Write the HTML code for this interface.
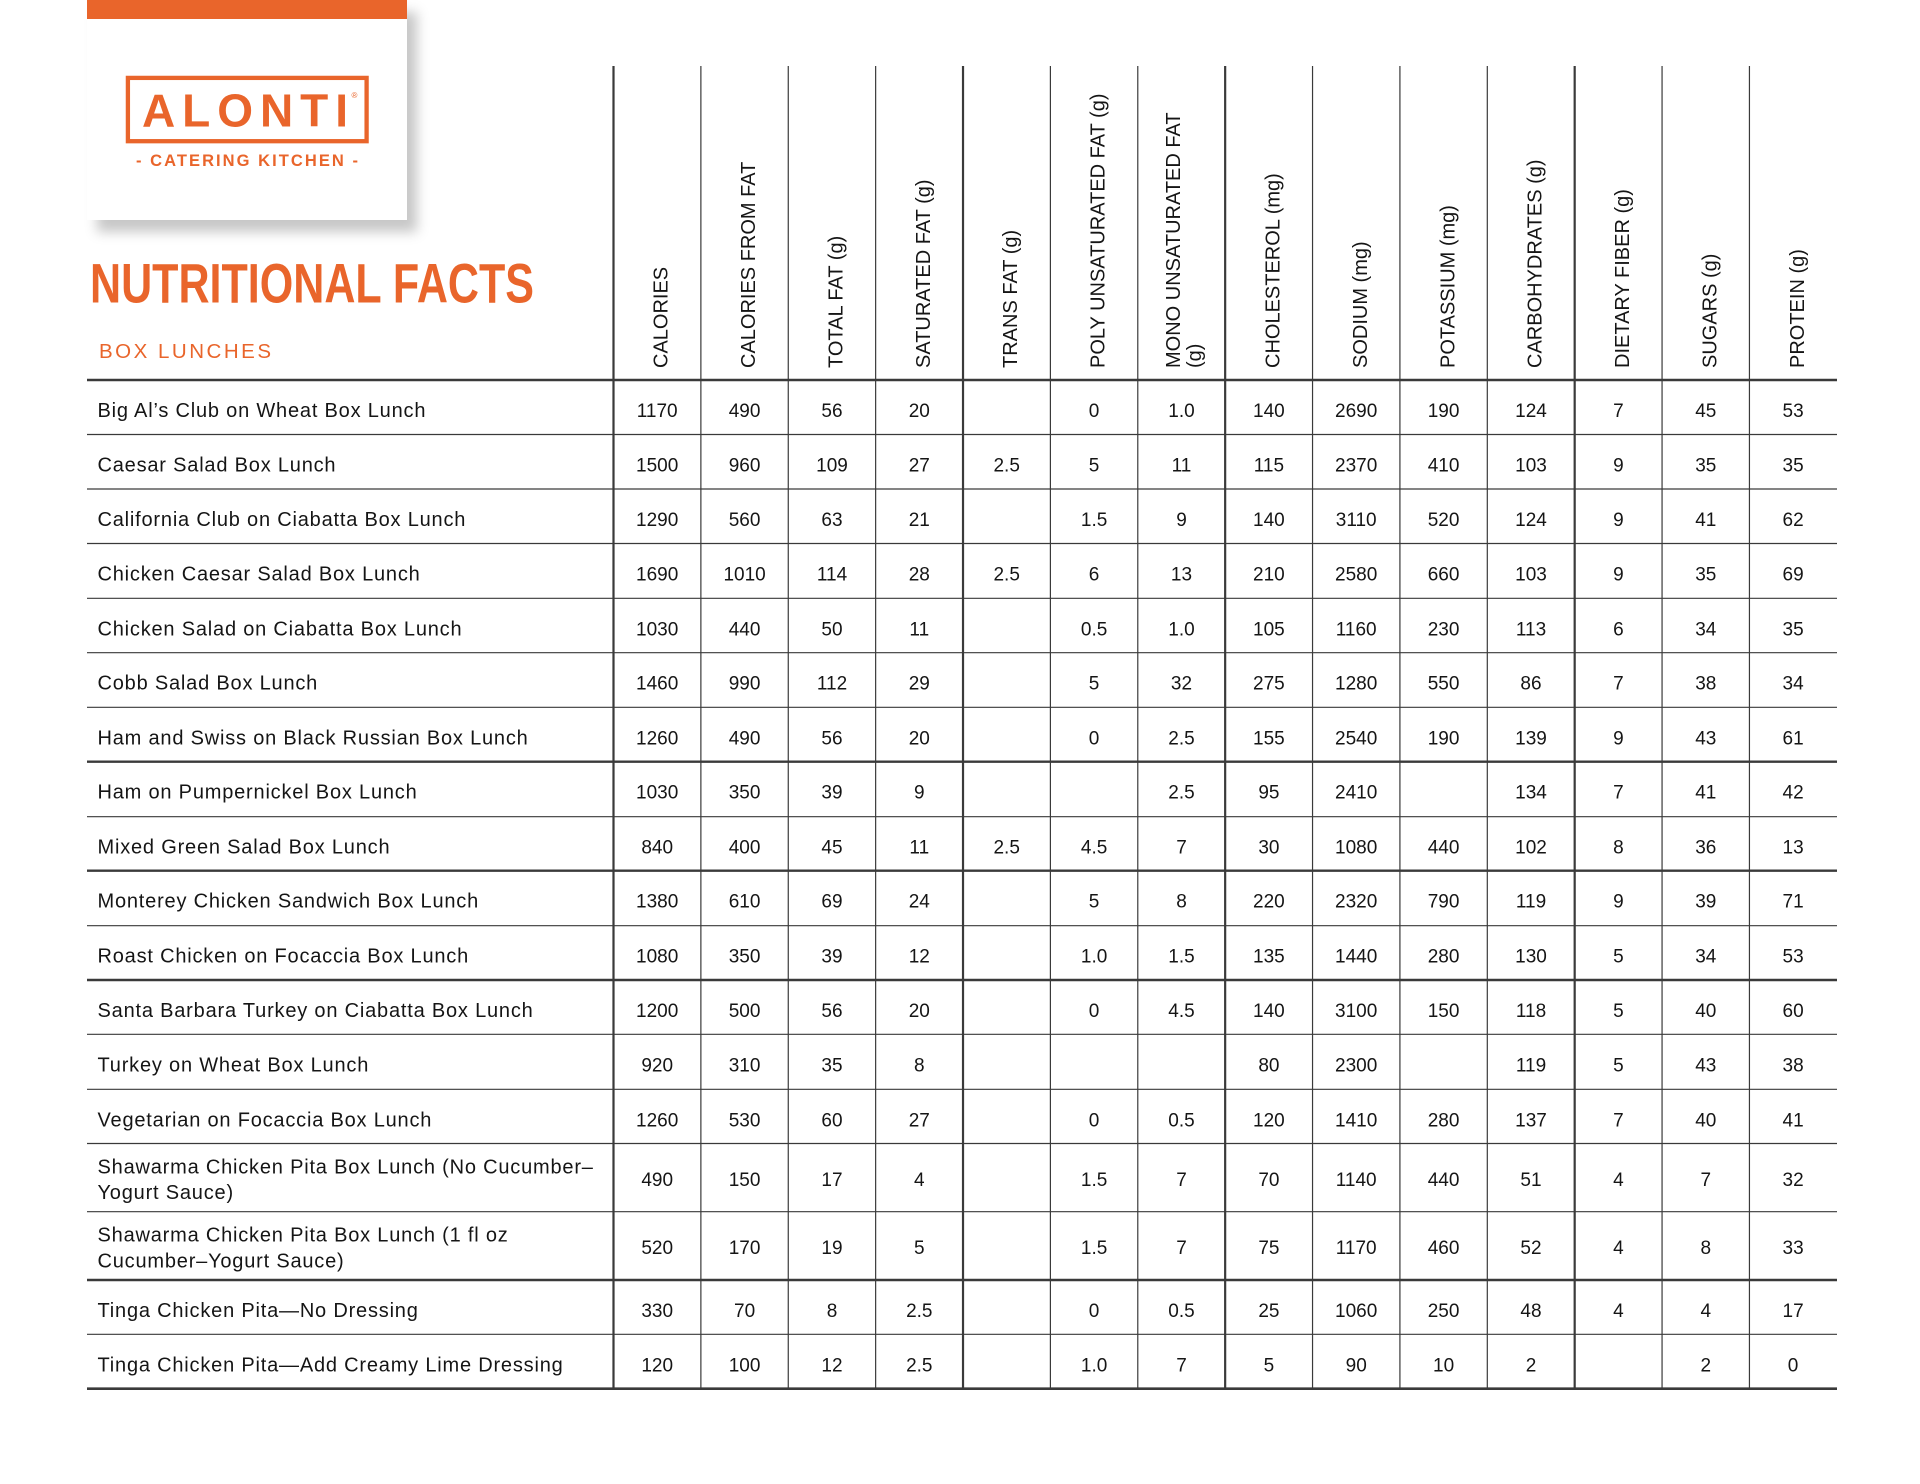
<!DOCTYPE html>
<html>
<head>
<meta charset="utf-8">
<style>
  html, body { margin: 0; padding: 0; background: #ffffff; }
  body { width: 1920px; height: 1484px; overflow: hidden; }
  svg { display: block; }
  .h { font-family: "Liberation Sans", sans-serif; font-size: 20px; fill: #151515; }
  .l { font-family: "Liberation Sans", sans-serif; font-size: 20px; fill: #151515; letter-spacing: 0.8px; }
  .n text { font-family: "Liberation Sans", sans-serif; font-size: 19px; fill: #151515; text-anchor: middle; }
</style>
</head>
<body>
<svg width="1920" height="1484" viewBox="0 0 1920 1484" xmlns="http://www.w3.org/2000/svg">
  <defs>
    <filter id="sh" x="-10%" y="-10%" width="130%" height="130%">
      <feDropShadow dx="10" dy="12" stdDeviation="6" flood-color="#000" flood-opacity="0.22"/>
    </filter>
  </defs>
  <rect width="1920" height="1484" fill="#ffffff"/>

  <!-- Logo card -->
  <rect x="87" y="0" width="320" height="220" fill="#ffffff" filter="url(#sh)"/>
  <rect x="87" y="0" width="320" height="19" fill="#E9652B"/>
  <rect x="127.9" y="77.9" width="238.7" height="63.3" fill="none" stroke="#E9652B" stroke-width="4.3"/>
  <text x="142" y="126.7" font-family="Liberation Sans, sans-serif" font-weight="bold" font-size="46" fill="#E9652B" textLength="206" lengthAdjust="spacing">ALONTI</text>
  <text x="351.5" y="98" font-family="Liberation Sans, sans-serif" font-size="8" fill="#E9652B">®</text>
  <text x="136" y="166" font-family="Liberation Sans, sans-serif" font-weight="bold" font-size="16.5" fill="#E9652B" textLength="222" lengthAdjust="spacing">- CATERING KITCHEN -</text>

  <!-- Title -->
  <text x="90" y="302.3" font-family="Liberation Sans, sans-serif" font-weight="bold" font-size="56" fill="#E9652B" textLength="444" lengthAdjust="spacingAndGlyphs">NUTRITIONAL FACTS</text>
  <text x="99" y="358" font-family="Liberation Sans, sans-serif" font-size="20.5" fill="#E9652B" textLength="172" lengthAdjust="spacing">BOX LUNCHES</text>

  <!-- Vertical lines -->
  <g stroke="#3a3a3a">
    <line x1="613.5" y1="66" x2="613.5" y2="1389" stroke-width="2.2"/>
    <line x1="700.88" y1="66" x2="700.88" y2="1389" stroke-width="1.2"/>
    <line x1="788.26" y1="66" x2="788.26" y2="1389" stroke-width="1.2"/>
    <line x1="875.64" y1="66" x2="875.64" y2="1389" stroke-width="1.2"/>
    <line x1="963.02" y1="66" x2="963.02" y2="1389" stroke-width="2.2"/>
    <line x1="1050.4" y1="66" x2="1050.4" y2="1389" stroke-width="1.2"/>
    <line x1="1137.78" y1="66" x2="1137.78" y2="1389" stroke-width="1.2"/>
    <line x1="1225.16" y1="66" x2="1225.16" y2="1389" stroke-width="2.2"/>
    <line x1="1312.54" y1="66" x2="1312.54" y2="1389" stroke-width="1.2"/>
    <line x1="1399.92" y1="66" x2="1399.92" y2="1389" stroke-width="1.2"/>
    <line x1="1487.3" y1="66" x2="1487.3" y2="1389" stroke-width="1.2"/>
    <line x1="1574.68" y1="66" x2="1574.68" y2="1389" stroke-width="2.2"/>
    <line x1="1662.06" y1="66" x2="1662.06" y2="1389" stroke-width="1.2"/>
    <line x1="1749.44" y1="66" x2="1749.44" y2="1389" stroke-width="1.2"/>
  </g>

  <!-- Horizontal lines -->
  <g stroke="#3a3a3a">
    <line x1="87" y1="380" x2="1837" y2="380" stroke-width="2.6"/>
    <line x1="87" y1="434.5" x2="1837" y2="434.5" stroke-width="1.2"/>
    <line x1="87" y1="489" x2="1837" y2="489" stroke-width="1.2"/>
    <line x1="87" y1="543.5" x2="1837" y2="543.5" stroke-width="1.2"/>
    <line x1="87" y1="598.3" x2="1837" y2="598.3" stroke-width="1.2"/>
    <line x1="87" y1="652.7" x2="1837" y2="652.7" stroke-width="1.2"/>
    <line x1="87" y1="707.3" x2="1837" y2="707.3" stroke-width="1.2"/>
    <line x1="87" y1="761.7" x2="1837" y2="761.7" stroke-width="2.4"/>
    <line x1="87" y1="816.7" x2="1837" y2="816.7" stroke-width="1.2"/>
    <line x1="87" y1="870.7" x2="1837" y2="870.7" stroke-width="2.4"/>
    <line x1="87" y1="925.7" x2="1837" y2="925.7" stroke-width="1.2"/>
    <line x1="87" y1="980" x2="1837" y2="980" stroke-width="2.4"/>
    <line x1="87" y1="1034.3" x2="1837" y2="1034.3" stroke-width="1.2"/>
    <line x1="87" y1="1089.3" x2="1837" y2="1089.3" stroke-width="1.2"/>
    <line x1="87" y1="1143.5" x2="1837" y2="1143.5" stroke-width="1.2"/>
    <line x1="87" y1="1211.7" x2="1837" y2="1211.7" stroke-width="1.2"/>
    <line x1="87" y1="1280" x2="1837" y2="1280" stroke-width="2.6"/>
    <line x1="87" y1="1334.3" x2="1837" y2="1334.3" stroke-width="1.2"/>
    <line x1="87" y1="1388.7" x2="1837" y2="1388.7" stroke-width="2.6"/>
  </g>

  <!-- Column headers (rotated) -->
  <g class="h">
    <text transform="translate(667.7,368) rotate(-90)">CALORIES</text>
    <text transform="translate(755.1,368) rotate(-90)">CALORIES FROM FAT</text>
    <text transform="translate(842.5,368) rotate(-90)">TOTAL FAT (g)</text>
    <text transform="translate(929.8,368) rotate(-90)">SATURATED FAT (g)</text>
    <text transform="translate(1017.2,368) rotate(-90)">TRANS FAT (g)</text>
    <text transform="translate(1104.6,368) rotate(-90)">POLY UNSATURATED FAT (g)</text>
    <text transform="translate(1180,368) rotate(-90)">MONO UNSATURATED FAT</text>
    <text transform="translate(1201,368) rotate(-90)">(g)</text>
    <text transform="translate(1279.6,368) rotate(-90)">CHOLESTEROL (mg)</text>
    <text transform="translate(1367,368) rotate(-90)">SODIUM (mg)</text>
    <text transform="translate(1454.4,368) rotate(-90)">POTASSIUM (mg)</text>
    <text transform="translate(1541.7,368) rotate(-90)">CARBOHYDRATES (g)</text>
    <text transform="translate(1629.1,368) rotate(-90)">DIETARY FIBER (g)</text>
    <text transform="translate(1716.5,368) rotate(-90)">SUGARS (g)</text>
    <text transform="translate(1803.9,368) rotate(-90)">PROTEIN (g)</text>
  </g>

  <!-- Row labels -->
  <g class="l">
    <text x="97.5" y="417">Big Al’s Club on Wheat Box Lunch</text>
    <text x="97.5" y="471.5">Caesar Salad Box Lunch</text>
    <text x="97.5" y="526">California Club on Ciabatta Box Lunch</text>
    <text x="97.5" y="580.5">Chicken Caesar Salad Box Lunch</text>
    <text x="97.5" y="635.3">Chicken Salad on Ciabatta Box Lunch</text>
    <text x="97.5" y="689.7">Cobb Salad Box Lunch</text>
    <text x="97.5" y="744.3">Ham and Swiss on Black Russian Box Lunch</text>
    <text x="97.5" y="798.7">Ham on Pumpernickel Box Lunch</text>
    <text x="97.5" y="853.7">Mixed Green Salad Box Lunch</text>
    <text x="97.5" y="907.7">Monterey Chicken Sandwich Box Lunch</text>
    <text x="97.5" y="962.7">Roast Chicken on Focaccia Box Lunch</text>
    <text x="97.5" y="1017">Santa Barbara Turkey on Ciabatta Box Lunch</text>
    <text x="97.5" y="1071.3">Turkey on Wheat Box Lunch</text>
    <text x="97.5" y="1126.3">Vegetarian on Focaccia Box Lunch</text>
    <text x="97.5" y="1173.3">Shawarma Chicken Pita Box Lunch (No Cucumber–</text>
    <text x="97.5" y="1199">Yogurt Sauce)</text>
    <text x="97.5" y="1241.7">Shawarma Chicken Pita Box Lunch (1 fl oz</text>
    <text x="97.5" y="1267.3">Cucumber–Yogurt Sauce)</text>
    <text x="97.5" y="1317">Tinga Chicken Pita—No Dressing</text>
    <text x="97.5" y="1371.3">Tinga Chicken Pita—Add Creamy Lime Dressing</text>
  </g>

  <!-- Data -->
  <g class="n">
    <g transform="translate(0,417)">
      <text x="657.2">1170</text><text x="744.6">490</text><text x="832">56</text><text x="919.3">20</text>
      <text x="1094.1">0</text><text x="1181.5">1.0</text><text x="1268.9">140</text><text x="1356.2">2690</text>
      <text x="1443.6">190</text><text x="1531">124</text><text x="1618.4">7</text><text x="1705.8">45</text><text x="1793.1">53</text>
    </g>
    <g transform="translate(0,471.5)">
      <text x="657.2">1500</text><text x="744.6">960</text><text x="832">109</text><text x="919.3">27</text><text x="1006.7">2.5</text>
      <text x="1094.1">5</text><text x="1181.5">11</text><text x="1268.9">115</text><text x="1356.2">2370</text>
      <text x="1443.6">410</text><text x="1531">103</text><text x="1618.4">9</text><text x="1705.8">35</text><text x="1793.1">35</text>
    </g>
    <g transform="translate(0,526)">
      <text x="657.2">1290</text><text x="744.6">560</text><text x="832">63</text><text x="919.3">21</text>
      <text x="1094.1">1.5</text><text x="1181.5">9</text><text x="1268.9">140</text><text x="1356.2">3110</text>
      <text x="1443.6">520</text><text x="1531">124</text><text x="1618.4">9</text><text x="1705.8">41</text><text x="1793.1">62</text>
    </g>
    <g transform="translate(0,580.5)">
      <text x="657.2">1690</text><text x="744.6">1010</text><text x="832">114</text><text x="919.3">28</text><text x="1006.7">2.5</text>
      <text x="1094.1">6</text><text x="1181.5">13</text><text x="1268.9">210</text><text x="1356.2">2580</text>
      <text x="1443.6">660</text><text x="1531">103</text><text x="1618.4">9</text><text x="1705.8">35</text><text x="1793.1">69</text>
    </g>
    <g transform="translate(0,635.3)">
      <text x="657.2">1030</text><text x="744.6">440</text><text x="832">50</text><text x="919.3">11</text>
      <text x="1094.1">0.5</text><text x="1181.5">1.0</text><text x="1268.9">105</text><text x="1356.2">1160</text>
      <text x="1443.6">230</text><text x="1531">113</text><text x="1618.4">6</text><text x="1705.8">34</text><text x="1793.1">35</text>
    </g>
    <g transform="translate(0,689.7)">
      <text x="657.2">1460</text><text x="744.6">990</text><text x="832">112</text><text x="919.3">29</text>
      <text x="1094.1">5</text><text x="1181.5">32</text><text x="1268.9">275</text><text x="1356.2">1280</text>
      <text x="1443.6">550</text><text x="1531">86</text><text x="1618.4">7</text><text x="1705.8">38</text><text x="1793.1">34</text>
    </g>
    <g transform="translate(0,744.3)">
      <text x="657.2">1260</text><text x="744.6">490</text><text x="832">56</text><text x="919.3">20</text>
      <text x="1094.1">0</text><text x="1181.5">2.5</text><text x="1268.9">155</text><text x="1356.2">2540</text>
      <text x="1443.6">190</text><text x="1531">139</text><text x="1618.4">9</text><text x="1705.8">43</text><text x="1793.1">61</text>
    </g>
    <g transform="translate(0,798.7)">
      <text x="657.2">1030</text><text x="744.6">350</text><text x="832">39</text><text x="919.3">9</text>
      <text x="1181.5">2.5</text><text x="1268.9">95</text><text x="1356.2">2410</text>
      <text x="1531">134</text><text x="1618.4">7</text><text x="1705.8">41</text><text x="1793.1">42</text>
    </g>
    <g transform="translate(0,853.7)">
      <text x="657.2">840</text><text x="744.6">400</text><text x="832">45</text><text x="919.3">11</text><text x="1006.7">2.5</text>
      <text x="1094.1">4.5</text><text x="1181.5">7</text><text x="1268.9">30</text><text x="1356.2">1080</text>
      <text x="1443.6">440</text><text x="1531">102</text><text x="1618.4">8</text><text x="1705.8">36</text><text x="1793.1">13</text>
    </g>
    <g transform="translate(0,907.7)">
      <text x="657.2">1380</text><text x="744.6">610</text><text x="832">69</text><text x="919.3">24</text>
      <text x="1094.1">5</text><text x="1181.5">8</text><text x="1268.9">220</text><text x="1356.2">2320</text>
      <text x="1443.6">790</text><text x="1531">119</text><text x="1618.4">9</text><text x="1705.8">39</text><text x="1793.1">71</text>
    </g>
    <g transform="translate(0,962.7)">
      <text x="657.2">1080</text><text x="744.6">350</text><text x="832">39</text><text x="919.3">12</text>
      <text x="1094.1">1.0</text><text x="1181.5">1.5</text><text x="1268.9">135</text><text x="1356.2">1440</text>
      <text x="1443.6">280</text><text x="1531">130</text><text x="1618.4">5</text><text x="1705.8">34</text><text x="1793.1">53</text>
    </g>
    <g transform="translate(0,1017)">
      <text x="657.2">1200</text><text x="744.6">500</text><text x="832">56</text><text x="919.3">20</text>
      <text x="1094.1">0</text><text x="1181.5">4.5</text><text x="1268.9">140</text><text x="1356.2">3100</text>
      <text x="1443.6">150</text><text x="1531">118</text><text x="1618.4">5</text><text x="1705.8">40</text><text x="1793.1">60</text>
    </g>
    <g transform="translate(0,1071.3)">
      <text x="657.2">920</text><text x="744.6">310</text><text x="832">35</text><text x="919.3">8</text>
      <text x="1268.9">80</text><text x="1356.2">2300</text>
      <text x="1531">119</text><text x="1618.4">5</text><text x="1705.8">43</text><text x="1793.1">38</text>
    </g>
    <g transform="translate(0,1126.3)">
      <text x="657.2">1260</text><text x="744.6">530</text><text x="832">60</text><text x="919.3">27</text>
      <text x="1094.1">0</text><text x="1181.5">0.5</text><text x="1268.9">120</text><text x="1356.2">1410</text>
      <text x="1443.6">280</text><text x="1531">137</text><text x="1618.4">7</text><text x="1705.8">40</text><text x="1793.1">41</text>
    </g>
    <g transform="translate(0,1186)">
      <text x="657.2">490</text><text x="744.6">150</text><text x="832">17</text><text x="919.3">4</text>
      <text x="1094.1">1.5</text><text x="1181.5">7</text><text x="1268.9">70</text><text x="1356.2">1140</text>
      <text x="1443.6">440</text><text x="1531">51</text><text x="1618.4">4</text><text x="1705.8">7</text><text x="1793.1">32</text>
    </g>
    <g transform="translate(0,1254)">
      <text x="657.2">520</text><text x="744.6">170</text><text x="832">19</text><text x="919.3">5</text>
      <text x="1094.1">1.5</text><text x="1181.5">7</text><text x="1268.9">75</text><text x="1356.2">1170</text>
      <text x="1443.6">460</text><text x="1531">52</text><text x="1618.4">4</text><text x="1705.8">8</text><text x="1793.1">33</text>
    </g>
    <g transform="translate(0,1317)">
      <text x="657.2">330</text><text x="744.6">70</text><text x="832">8</text><text x="919.3">2.5</text>
      <text x="1094.1">0</text><text x="1181.5">0.5</text><text x="1268.9">25</text><text x="1356.2">1060</text>
      <text x="1443.6">250</text><text x="1531">48</text><text x="1618.4">4</text><text x="1705.8">4</text><text x="1793.1">17</text>
    </g>
    <g transform="translate(0,1371.3)">
      <text x="657.2">120</text><text x="744.6">100</text><text x="832">12</text><text x="919.3">2.5</text>
      <text x="1094.1">1.0</text><text x="1181.5">7</text><text x="1268.9">5</text><text x="1356.2">90</text>
      <text x="1443.6">10</text><text x="1531">2</text><text x="1705.8">2</text><text x="1793.1">0</text>
    </g>
  </g>
</svg>
</body>
</html>
